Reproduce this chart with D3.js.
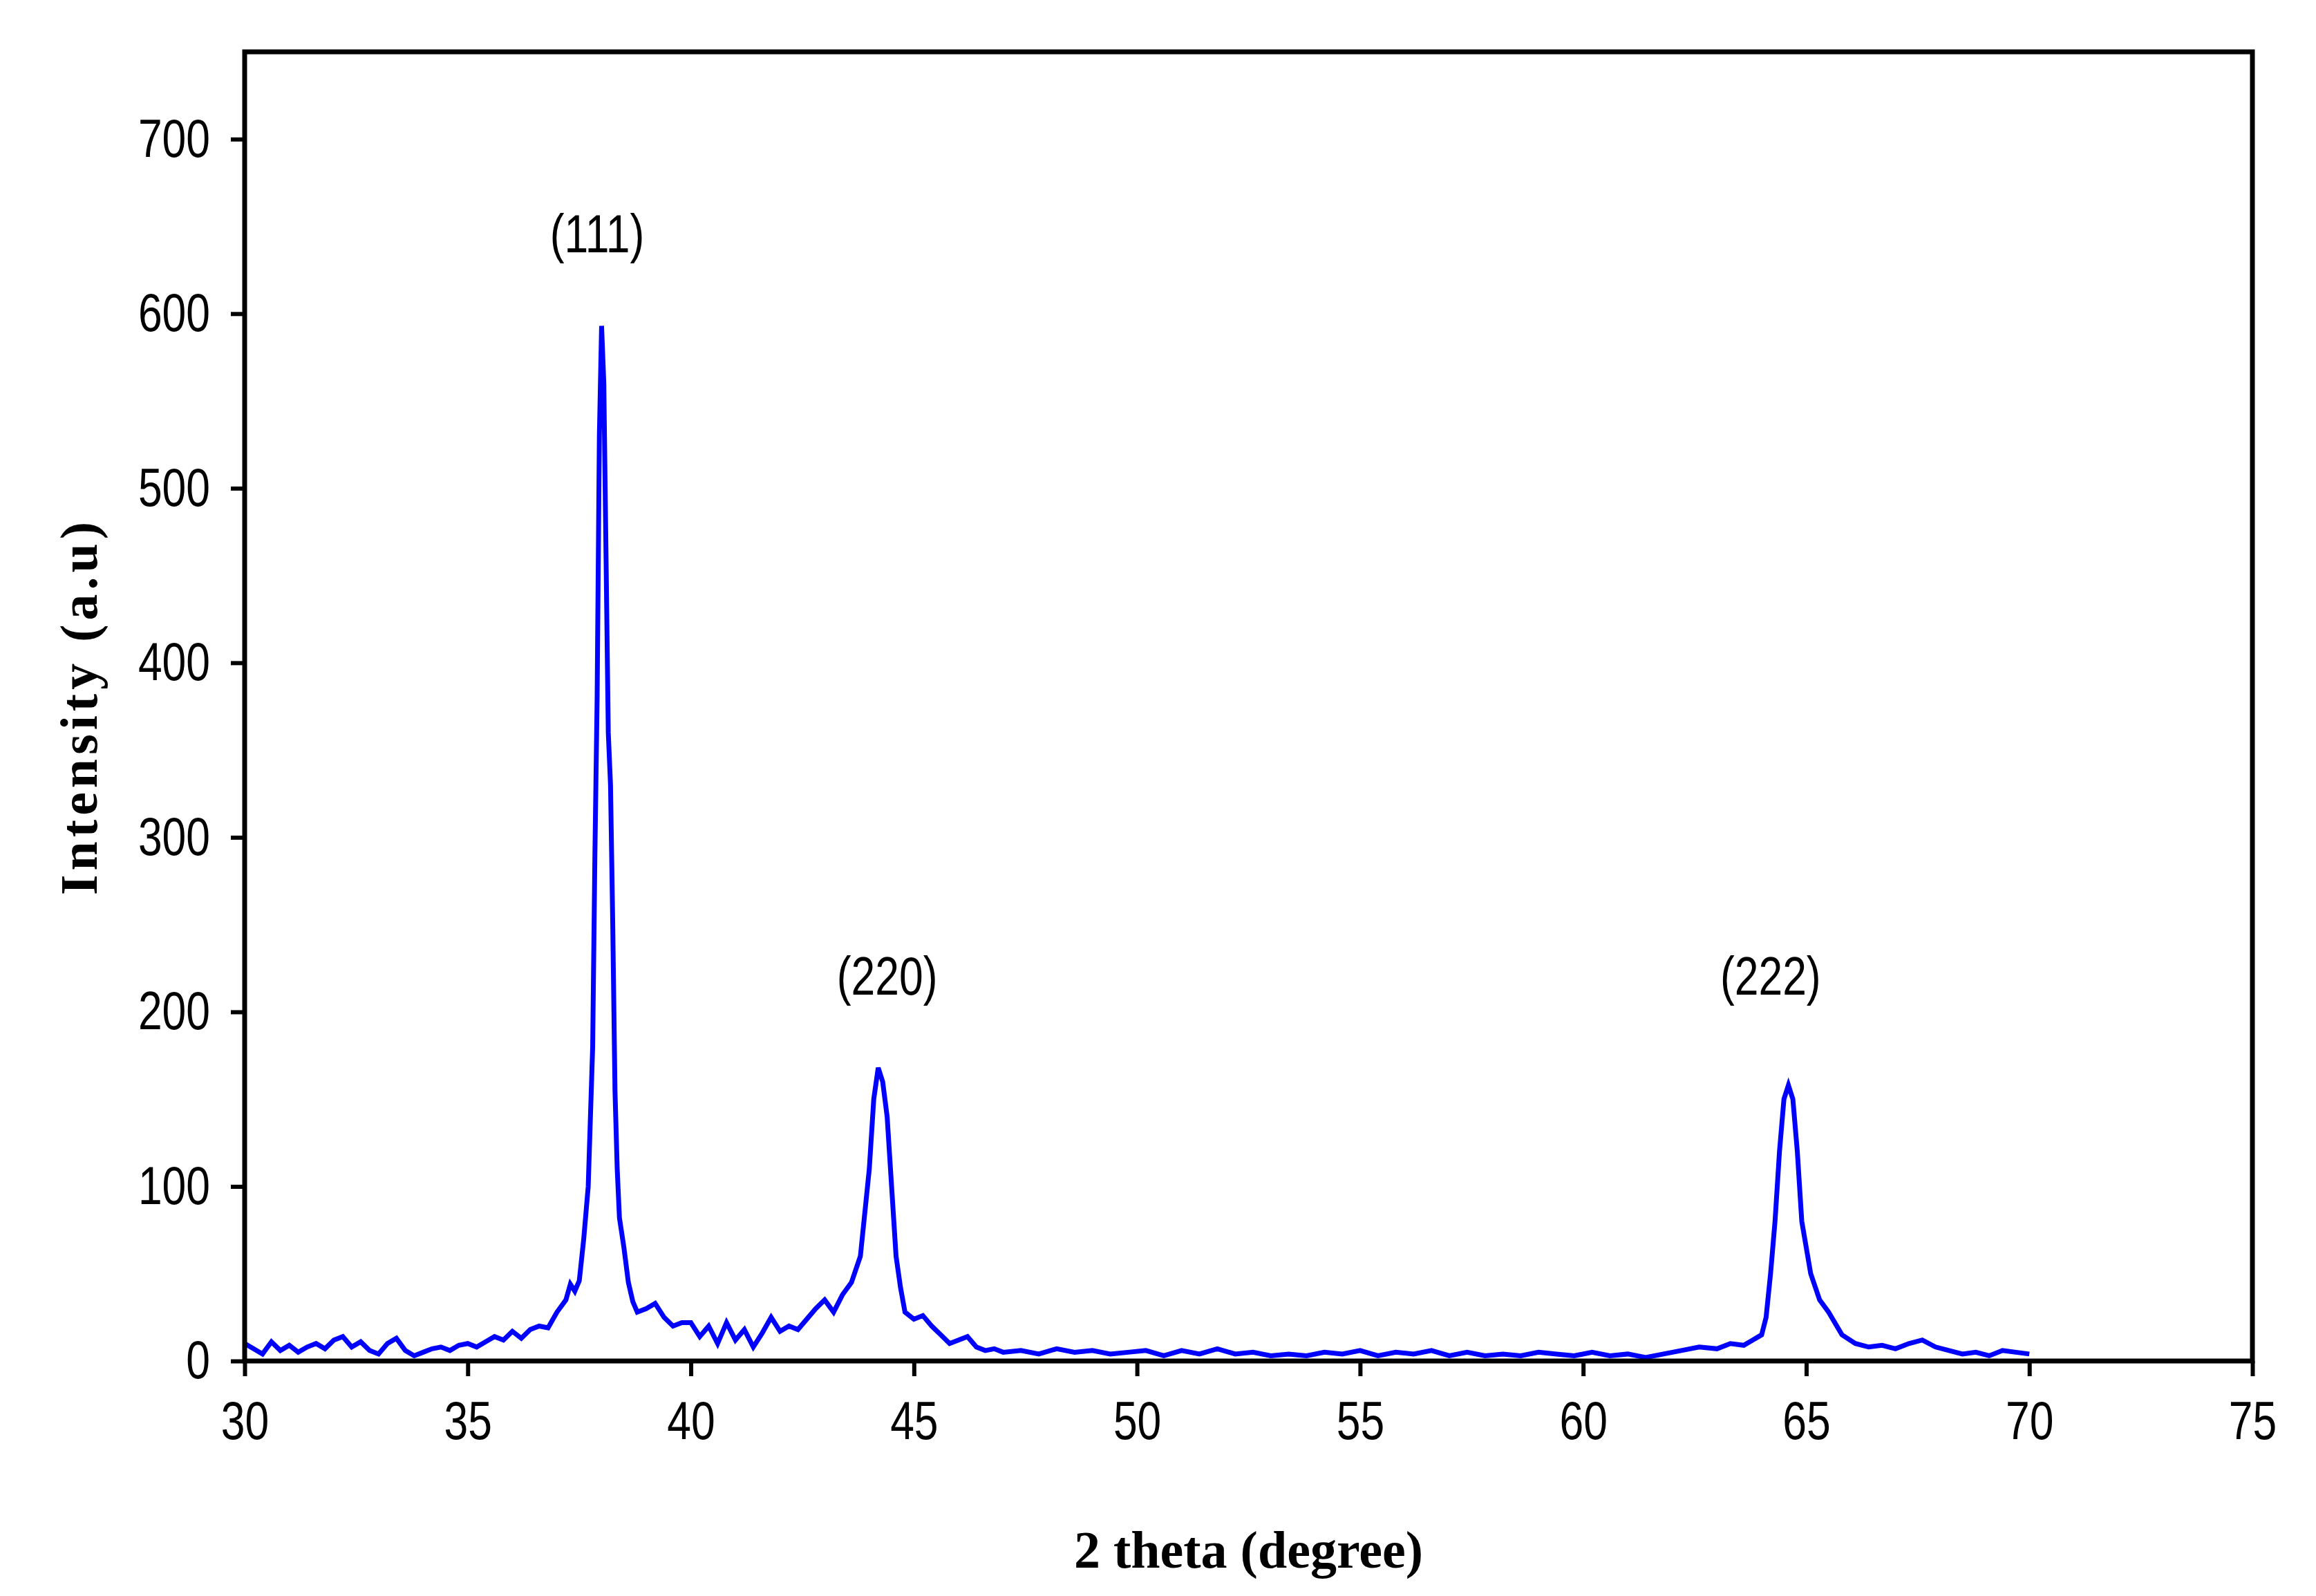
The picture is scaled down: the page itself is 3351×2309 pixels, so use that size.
<!DOCTYPE html>
<html><head><meta charset="utf-8">
<script src="https://cdn.jsdelivr.net/npm/d3@7"></script>
<style>body{margin:0;background:#fff}</style></head>
<body><svg id="c" width="3351" height="2309"></svg>
<script>
const twoTheta = [30,30.2,30.4,30.6,30.8,31,31.2,31.4,31.6,31.8,32,32.2,32.4,32.6,32.8,33,33.2,33.4,33.6,33.8,34,34.2,34.4,34.6,34.8,35,35.2,35.4,35.6,35.8,36,36.2,36.4,36.6,36.8,37,37.2,37.3,37.4,37.5,37.6,37.7,37.8,37.85,37.9,37.95,38,38.05,38.1,38.15,38.2,38.25,38.3,38.35,38.4,38.5,38.6,38.7,38.8,39,39.2,39.4,39.6,39.8,40,40.2,40.4,40.6,40.8,41,41.2,41.4,41.6,41.8,42,42.2,42.4,42.6,42.8,43,43.2,43.4,43.6,43.8,43.9,44,44.1,44.2,44.3,44.4,44.5,44.6,44.7,44.8,45,45.2,45.4,45.6,45.8,46,46.2,46.4,46.6,46.8,47,47.4,47.8,48.2,48.6,49,49.4,49.8,50.2,50.6,51,51.4,51.8,52.2,52.6,53,53.4,53.8,54.2,54.6,55,55.4,55.8,56.2,56.6,57,57.4,57.8,58.2,58.6,59,59.4,59.8,60.2,60.6,61,61.4,61.8,62.2,62.6,63,63.3,63.6,63.8,64,64.1,64.2,64.3,64.4,64.5,64.6,64.7,64.8,64.9,65.1,65.3,65.5,65.8,66.1,66.4,66.7,67,67.3,67.6,67.9,68.2,68.5,68.8,69.1,69.4,69.7,70];
const intensity = [10,7,4,11,6,9,5,8,10,7,12,14,8,11,6,4,10,13,6,3,5,7,8,6,9,10,8,11,14,12,17,13,18,20,19,28,35,44,40,46,70,100,180,290,380,530,593,560,460,360,330,250,155,110,82,65,45,34,28,30,33,25,20,22,22,14,20,10,22,12,18,8,16,25,17,20,18,24,30,35,28,38,45,60,85,110,150,168,160,140,100,60,42,28,24,26,20,15,10,12,14,8,6,7,5,6,4,7,5,6,4,5,6,3,6,4,7,4,5,3,4,3,5,4,6,3,5,4,6,3,5,3,4,3,5,4,3,5,3,4,2,4,6,8,7,10,9,12,15,25,50,80,120,150,158,150,120,80,50,35,28,15,10,8,9,7,10,12,8,6,4,5,3,6,5,4,3];
const xTicks = [30,35,40,45,50,55,60,65,70,75];
const yTicks = [0,100,200,300,400,500,600,700];
const peakLabels = ["(111)","(220)","(222)"];
const peakX = [37.9,44.4,64.2];
const peakY = [635,210,210];

const svg = d3.select("#c");
const L=354,R=3259,T=75,B=1969;
const x = d3.scaleLinear().domain([30,75]).range([L,R]);
const y = d3.scaleLinear().domain([0,750]).range([B,T]);
const tickFont = "'Liberation Sans',Arial,sans-serif";
const SX = 0.8;

svg.append("path").datum(twoTheta.map((d,i)=>[d,intensity[i]]))
  .attr("fill","none").attr("stroke","#0000ff").attr("stroke-width",7).attr("stroke-linejoin","miter")
  .attr("d",d3.line().x(d=>x(d[0])).y(d=>y(d[1])));

svg.append("rect").attr("x",L).attr("y",T).attr("width",R-L).attr("height",B-T)
  .attr("fill","none").attr("stroke","#000").attr("stroke-width",7);

const ya = svg.append("g").attr("transform",`translate(${L},0)`)
  .call(d3.axisLeft(y).tickValues(yTicks).tickSize(20).tickPadding(16));
const xa = svg.append("g").attr("transform",`translate(0,${B})`)
  .call(d3.axisBottom(x).tickValues(xTicks).tickSize(22).tickPadding(36));
[ya,xa].forEach(a=>{
  a.select(".domain").remove();
  a.selectAll("line").attr("stroke","#000").attr("stroke-width",6);
  a.selectAll("text").attr("font-family",tickFont).attr("font-size",78).attr("fill","#000");
});
ya.selectAll("text").attr("x",-50/SX).attr("transform",`scale(${SX},1)`);
xa.selectAll("text").attr("transform",`scale(${SX},1)`);

peakLabels.forEach((t,i)=>{
  svg.append("text").attr("transform",`translate(${x(peakX[i])},${y(peakY[i])}) scale(${SX},1)`)
    .attr("text-anchor","middle").attr("font-family",tickFont).attr("font-size",78).text(t);
});

svg.append("text").attr("x",(L+R)/2).attr("y",2268).attr("text-anchor","middle")
  .attr("font-family","'Liberation Serif',serif").attr("font-weight","bold").attr("font-size",76).text("2 theta (degree)");
svg.append("text").attr("transform",`translate(140,${(T+B)/2}) rotate(-90)`).attr("text-anchor","middle")
  .attr("font-family","'Liberation Serif',serif").attr("font-weight","bold").attr("font-size",76)
  .attr("letter-spacing",6).text("Intensity (a.u)");
</script></body></html>
